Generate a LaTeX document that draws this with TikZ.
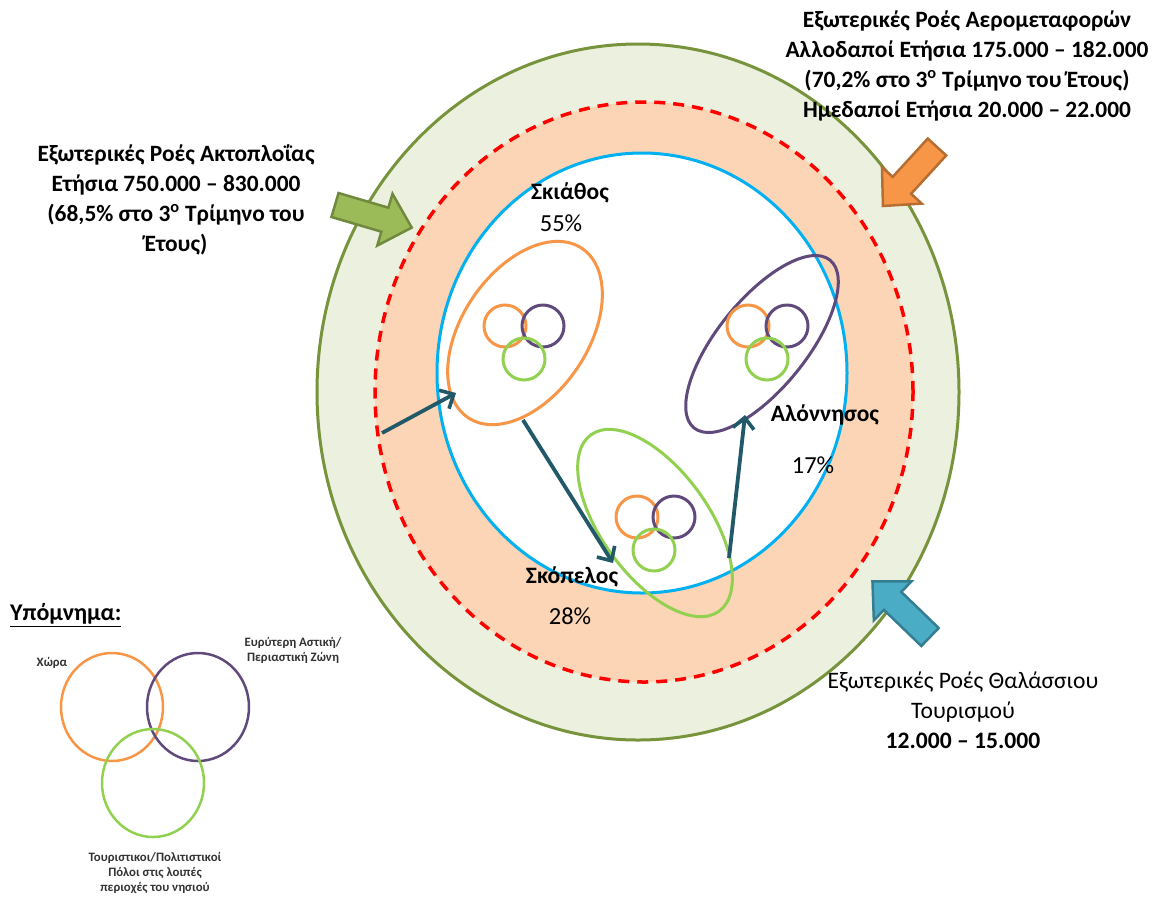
\documentclass[tikz,border=0pt]{standalone}
\usepackage{fontspec}
\setmainfont{Carlito}
\usetikzlibrary{arrows.meta,shapes.geometric}
\definecolor{cOlive}{HTML}{77933C}
\definecolor{cLGreen}{HTML}{EBF1DE}
\definecolor{cPeach}{HTML}{FBD5B5}
\definecolor{cRed}{HTML}{FF0000}
\definecolor{cSky}{HTML}{00B0F0}
\definecolor{cOrange}{HTML}{F79646}
\definecolor{cPurple}{HTML}{604A7B}
\definecolor{cLime}{HTML}{92D050}
\definecolor{cTeal}{HTML}{215968}
\definecolor{cGArrow}{HTML}{9BBB59}
\definecolor{cGArrowD}{HTML}{71893F}
\definecolor{cOArrowD}{HTML}{B66D31}
\definecolor{cBArrow}{HTML}{4BACC6}
\definecolor{cBArrowD}{HTML}{357D91}
\tikzset{
  island/.style={ellipse, draw, line width=3pt, inner sep=0pt},
  ring/.style={line width=3pt},
  flow/.style={draw=cTeal, line width=3.8pt, -{Straight Barb[length=11pt,width=21pt,line width=3.6pt]}},
  bigtxt/.style={font=\fontsize{23.4}{30}\selectfont\bfseries, align=center, inner sep=0pt},
  lbl/.style={font=\fontsize{23.5}{27}\selectfont\bfseries, inner sep=0pt},
  pct/.style={font=\fontsize{24.5}{28}\selectfont, inner sep=0pt},
  legtxt/.style={font=\fontsize{12.8}{15}\selectfont\bfseries, text=black!80, align=center, inner sep=0pt},
}
\begin{document}
\begin{tikzpicture}[x=1pt,y=-1pt]
\useasboundingbox (0,0) rectangle (1161,898);
% rings
\draw[ring, cOlive, fill=cLGreen] (638,392) ellipse [x radius=321pt, y radius=348pt];
\draw[cRed, line width=3.5pt, dash pattern=on 11pt off 8pt, fill=cPeach] (644,392) ellipse [x radius=269pt, y radius=290pt];
\draw[ring, cSky, fill=white] (642,373) ellipse [x radius=205pt, y radius=220pt];
% islands
\node[island, draw=cOrange, minimum width=204pt, minimum height=126pt, rotate=56] (skiathos) at (525,333) {};
\node[island, draw=cPurple, minimum width=216pt, minimum height=89pt, rotate=51] (alonnisos) at (762,344) {};
\node[island, draw=cLime, minimum width=218pt, minimum height=107pt, rotate=-54] (skopelos) at (655,523) {};
% small circles
\foreach \cx/\cy in {505/326, 748/326, 637/517}{
  \draw[ring, cOrange] (\cx,\cy) circle [radius=21pt];
}
\foreach \cx/\cy in {543/326, 787/326, 674/517}{
  \draw[ring, cPurple] (\cx,\cy) circle [radius=21pt];
}
\foreach \cx/\cy in {524/359, 767/359, 654/550}{
  \draw[ring, cLime] (\cx,\cy) circle [radius=21pt];
}
% flows
\coordinate (f1s) at (382,433);
\coordinate (f1e) at (456,393);
\coordinate (f2s) at (523,420);
\coordinate (f2e) at (613,563);
\coordinate (f3s) at (729,558);
\coordinate (f3e) at (745,415);
\draw[flow] (f1s) -- (f1e);
\draw[flow] (f2s) -- (f2e);
\draw[flow] (f3s) -- (f3e);
% island labels
\node[lbl] (tSk) at (570,193) {Σκιάθος};
\node[pct] (pSk) at (561,223) {55\%};
\node[lbl] (tAl) at (825,415) {Αλόννησος};
\node[pct] (pAl) at (813,465) {17\%};
\node[lbl] (tSp) at (572,577) {Σκόπελος};
\node[pct] (pSp) at (570,616) {28\%};
% block arrows
\begin{scope}[shift={(335,205)}, rotate=-16.4]
  \draw[line width=2.5pt, draw=cGArrowD, fill=cGArrow, line join=miter]
    (0,-12.5) -- (52,-12.5) -- (52,-27) -- (80,0) -- (52,27) -- (52,12.5) -- (0,12.5) -- cycle;
\end{scope}
\begin{scope}[shift={(937,147)}, rotate=-132.5]
  \draw[line width=2.5pt, draw=cOArrowD, fill=cOrange, line join=miter]
    (0,-12.5) -- (52,-12.5) -- (52,-27) -- (80,0) -- (52,27) -- (52,12.5) -- (0,12.5) -- cycle;
\end{scope}
\begin{scope}[shift={(930,637)}, rotate=136]
  \draw[line width=2.5pt, draw=cBArrowD, fill=cBArrow, line join=miter]
    (0,-12.5) -- (52,-12.5) -- (52,-27) -- (80,0) -- (52,27) -- (52,12.5) -- (0,12.5) -- cycle;
\end{scope}
% flow texts
\node[bigtxt] (air) at (967,66) {Εξωτερικές Ροές Αερομεταφορών\\Αλλοδαποί Ετήσια 175.000 – 182.000\\(70,2\% στο 3\textsuperscript{ο} Τρίμηνο του Έτους)\\Ημεδαποί Ετήσια 20.000 – 22.000};
\node[bigtxt] (ferry) at (176,200) {Εξωτερικές Ροές Ακτοπλοΐας\\Ετήσια 750.000 – 830.000\\(68,5\% στο 3\textsuperscript{ο} Τρίμηνο του\\Έτους)};
\node[bigtxt, font=\fontsize{23.6}{30}\selectfont] (sea) at (963,710) {Εξωτερικές Ροές Θαλάσσιου\\Τουρισμού\\\textbf{12.000 – 15.000}};
% legend
\node[anchor=west, font=\fontsize{24}{28}\selectfont\bfseries, inner sep=0pt] (leg) at (10,615) {\underline{Υπόμνημα:}};
\draw[ring, cOrange, line width=2.5pt] (112,707) ellipse [x radius=51pt, y radius=54pt];
\draw[ring, cPurple, line width=2.5pt] (198,707) ellipse [x radius=51pt, y radius=54pt];
\draw[ring, cLime, line width=2.5pt] (153,783) ellipse [x radius=51pt, y radius=54pt];
\node[legtxt] (lx) at (52,663) {Χώρα};
\node[legtxt] (lp) at (293,650) {Ευρύτερη Αστική/\\Περιαστική Ζώνη};
\node[legtxt] (lt) at (155,873) {Τουριστικοι/Πολιτιστικοί\\Πόλοι στις λοιπές\\περιοχές του νησιού};
\end{tikzpicture}
\end{document}
